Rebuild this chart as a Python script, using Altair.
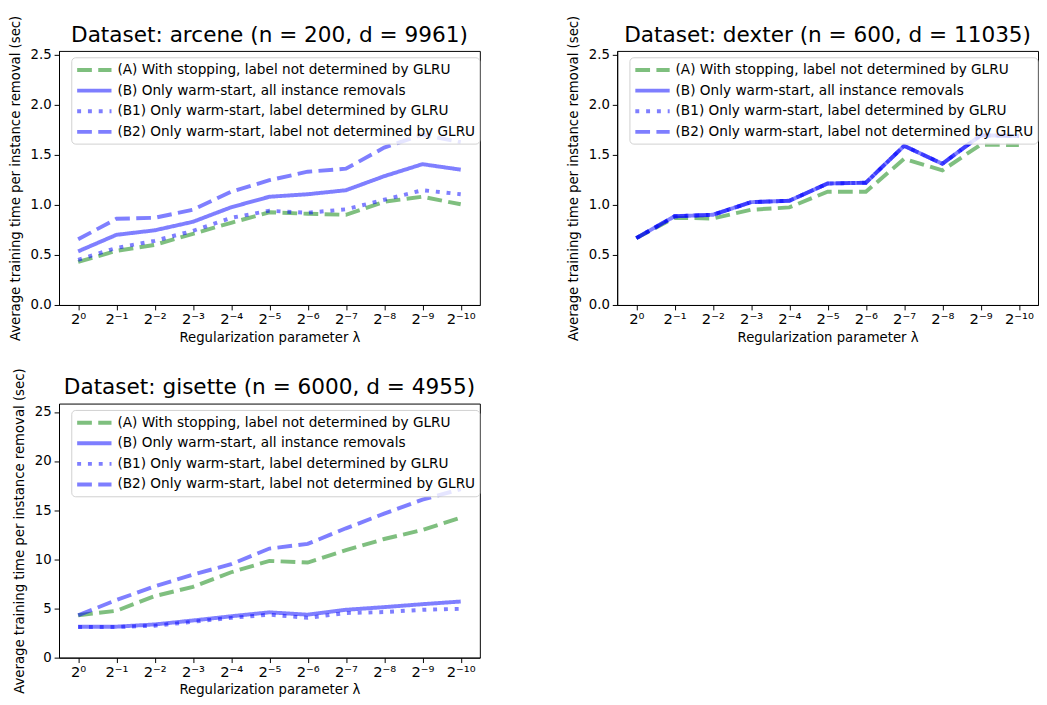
import altair as alt
import pandas as pd

lambda_labels = ["2⁰", "2⁻¹", "2⁻²", "2⁻³", "2⁻⁴", "2⁻⁵", "2⁻⁶", "2⁻⁷", "2⁻⁸", "2⁻⁹", "2⁻¹⁰"]

series_names = [
    "(A) With stopping, label not determined by GLRU",
    "(B) Only warm-start, all instance removals",
    "(B1) Only warm-start, label determined by GLRU",
    "(B2) Only warm-start, label not determined by GLRU",
]

arcene_A = [0.43, 0.54, 0.60, 0.71, 0.82, 0.925, 0.91, 0.90, 1.03, 1.08, 1.005]
arcene_B = [0.535, 0.70, 0.745, 0.83, 0.975, 1.08, 1.105, 1.145, 1.285, 1.405, 1.35]
arcene_B1 = [0.45, 0.57, 0.64, 0.74, 0.87, 0.94, 0.92, 0.955, 1.05, 1.145, 1.105]
arcene_B2 = [0.655, 0.86, 0.87, 0.95, 1.13, 1.245, 1.33, 1.36, 1.57, 1.70, 1.625]

dexter_A = [0.667, 0.87, 0.863, 0.95, 0.974, 1.13, 1.13, 1.458, 1.343, 1.60, 1.595]
dexter_B = [0.667, 0.885, 0.90, 1.026, 1.04, 1.212, 1.22, 1.588, 1.409, 1.693, 1.686]
dexter_B1 = [0.667, 0.885, 0.90, 1.026, 1.04, 1.212, 1.22, 1.588, 1.409, 1.693, 1.686]
dexter_B2 = [0.667, 0.885, 0.90, 1.026, 1.04, 1.212, 1.22, 1.588, 1.409, 1.693, 1.686]

gisette_A = [4.31, 4.77, 6.26, 7.2, 8.69, 9.84, 9.68, 10.93, 12.07, 12.99, 14.25]
gisette_B = [3.15, 3.15, 3.38, 3.78, 4.21, 4.61, 4.37, 4.87, 5.14, 5.44, 5.71]
gisette_B1 = [3.12, 3.12, 3.25, 3.65, 4.05, 4.37, 4.05, 4.54, 4.64, 4.87, 4.97]
gisette_B2 = [4.31, 5.86, 7.26, 8.45, 9.51, 11.1, 11.57, 13.16, 14.65, 16.07, 17.14]

FONT = "DejaVu Sans"
W, H = 429, 259


def panel(title, A, B, B1, B2, ymax, yticks, fmt):
    rows = []
    for name, vals in zip(series_names, [A, B, B1, B2]):
        for lab, v in zip(lambda_labels, vals):
            rows.append({"series": name, "lam": lab, "value": v})
    df = pd.DataFrame(rows)
    leg = alt.Legend(
        title=None, orient="none", legendX=12.5, legendY=6.5,
        labelFont=FONT, labelFontSize=13.9, labelColor="black", labelLimit=0,
        symbolType="M-1,0H4", symbolSize=196, symbolStrokeWidth=4,
        symbolOpacity=0.5, rowPadding=4, padding=4, labelOffset=25,
        fillColor="rgba(255,255,255,0.8)", strokeColor="#d0d0d0", cornerRadius=4,
    )
    lines = alt.Chart(df).mark_line(strokeWidth=4, opacity=0.5, strokeCap="butt").encode(
        x=alt.X("lam:O", sort=lambda_labels,
                scale=alt.Scale(type="point", padding=0.5),
                axis=alt.Axis(title="Regularization parameter λ", labelAngle=0,
                              labelFontSize=15, labelPadding=2, titlePadding=4)),
        y=alt.Y("value:Q", scale=alt.Scale(domain=[0, ymax], nice=False, zero=True),
                axis=alt.Axis(title="Average training time per instance removal (sec)",
                              values=yticks, format=fmt)),
        color=alt.Color("series:N", sort=series_names,
                        scale=alt.Scale(domain=series_names,
                                        range=["#008000", "#0000ff", "#0000ff", "#0000ff"]),
                        legend=leg),
        strokeDash=alt.StrokeDash("series:N", sort=series_names,
                                  scale=alt.Scale(domain=series_names,
                                                  range=[[15, 6.5], [1, 0], [4, 7], [15, 6.5]]),
                                  legend=leg),
        order=alt.Order("series:N"),
    )
    ttl = alt.Chart(pd.DataFrame({"t": [title]})).mark_text(
        font=FONT, fontSize=22, baseline="alphabetic", align="center", color="black"
    ).encode(text="t:N", x=alt.value(W / 2), y=alt.value(-9.5))
    return alt.layer(lines, ttl).properties(width=W, height=H)


arc = panel("Dataset: arcene (n = 200, d = 9961)", arcene_A, arcene_B, arcene_B1, arcene_B2,
            2.535, [0, 0.5, 1.0, 1.5, 2.0, 2.5], ".1f")
dex = panel("Dataset: dexter (n = 600, d = 11035)", dexter_A, dexter_B, dexter_B1, dexter_B2,
            2.535, [0, 0.5, 1.0, 1.5, 2.0, 2.5], ".1f")
gis = panel("Dataset: gisette (n = 6000, d = 4955)", gisette_A, gisette_B, gisette_B1, gisette_B2,
            25.85, [0, 5, 10, 15, 20, 25], "d")

top = alt.hconcat(arc, dex, spacing=87).resolve_scale(
    color="independent", strokeDash="independent", x="independent", y="independent")
chart = alt.vconcat(top, gis, spacing=23.5).resolve_scale(
    color="independent", strokeDash="independent", x="independent", y="independent"
).properties(padding={"left": 0, "top": 0, "right": 0, "bottom": 0}).configure(
    font=FONT
).configure_view(
    stroke="black", strokeWidth=1
).configure_axis(
    labelFont=FONT, labelFontSize=13.5, labelColor="black", titleFont=FONT,
    titleFontSize=13.5, titleFontWeight="normal", titleColor="black",
    tickColor="black", tickSize=5, domainColor="black", grid=False,
    labelPadding=3, titlePadding=8,
)

chart.save("out.html", embed_options={"renderer": "svg", "actions": False})
